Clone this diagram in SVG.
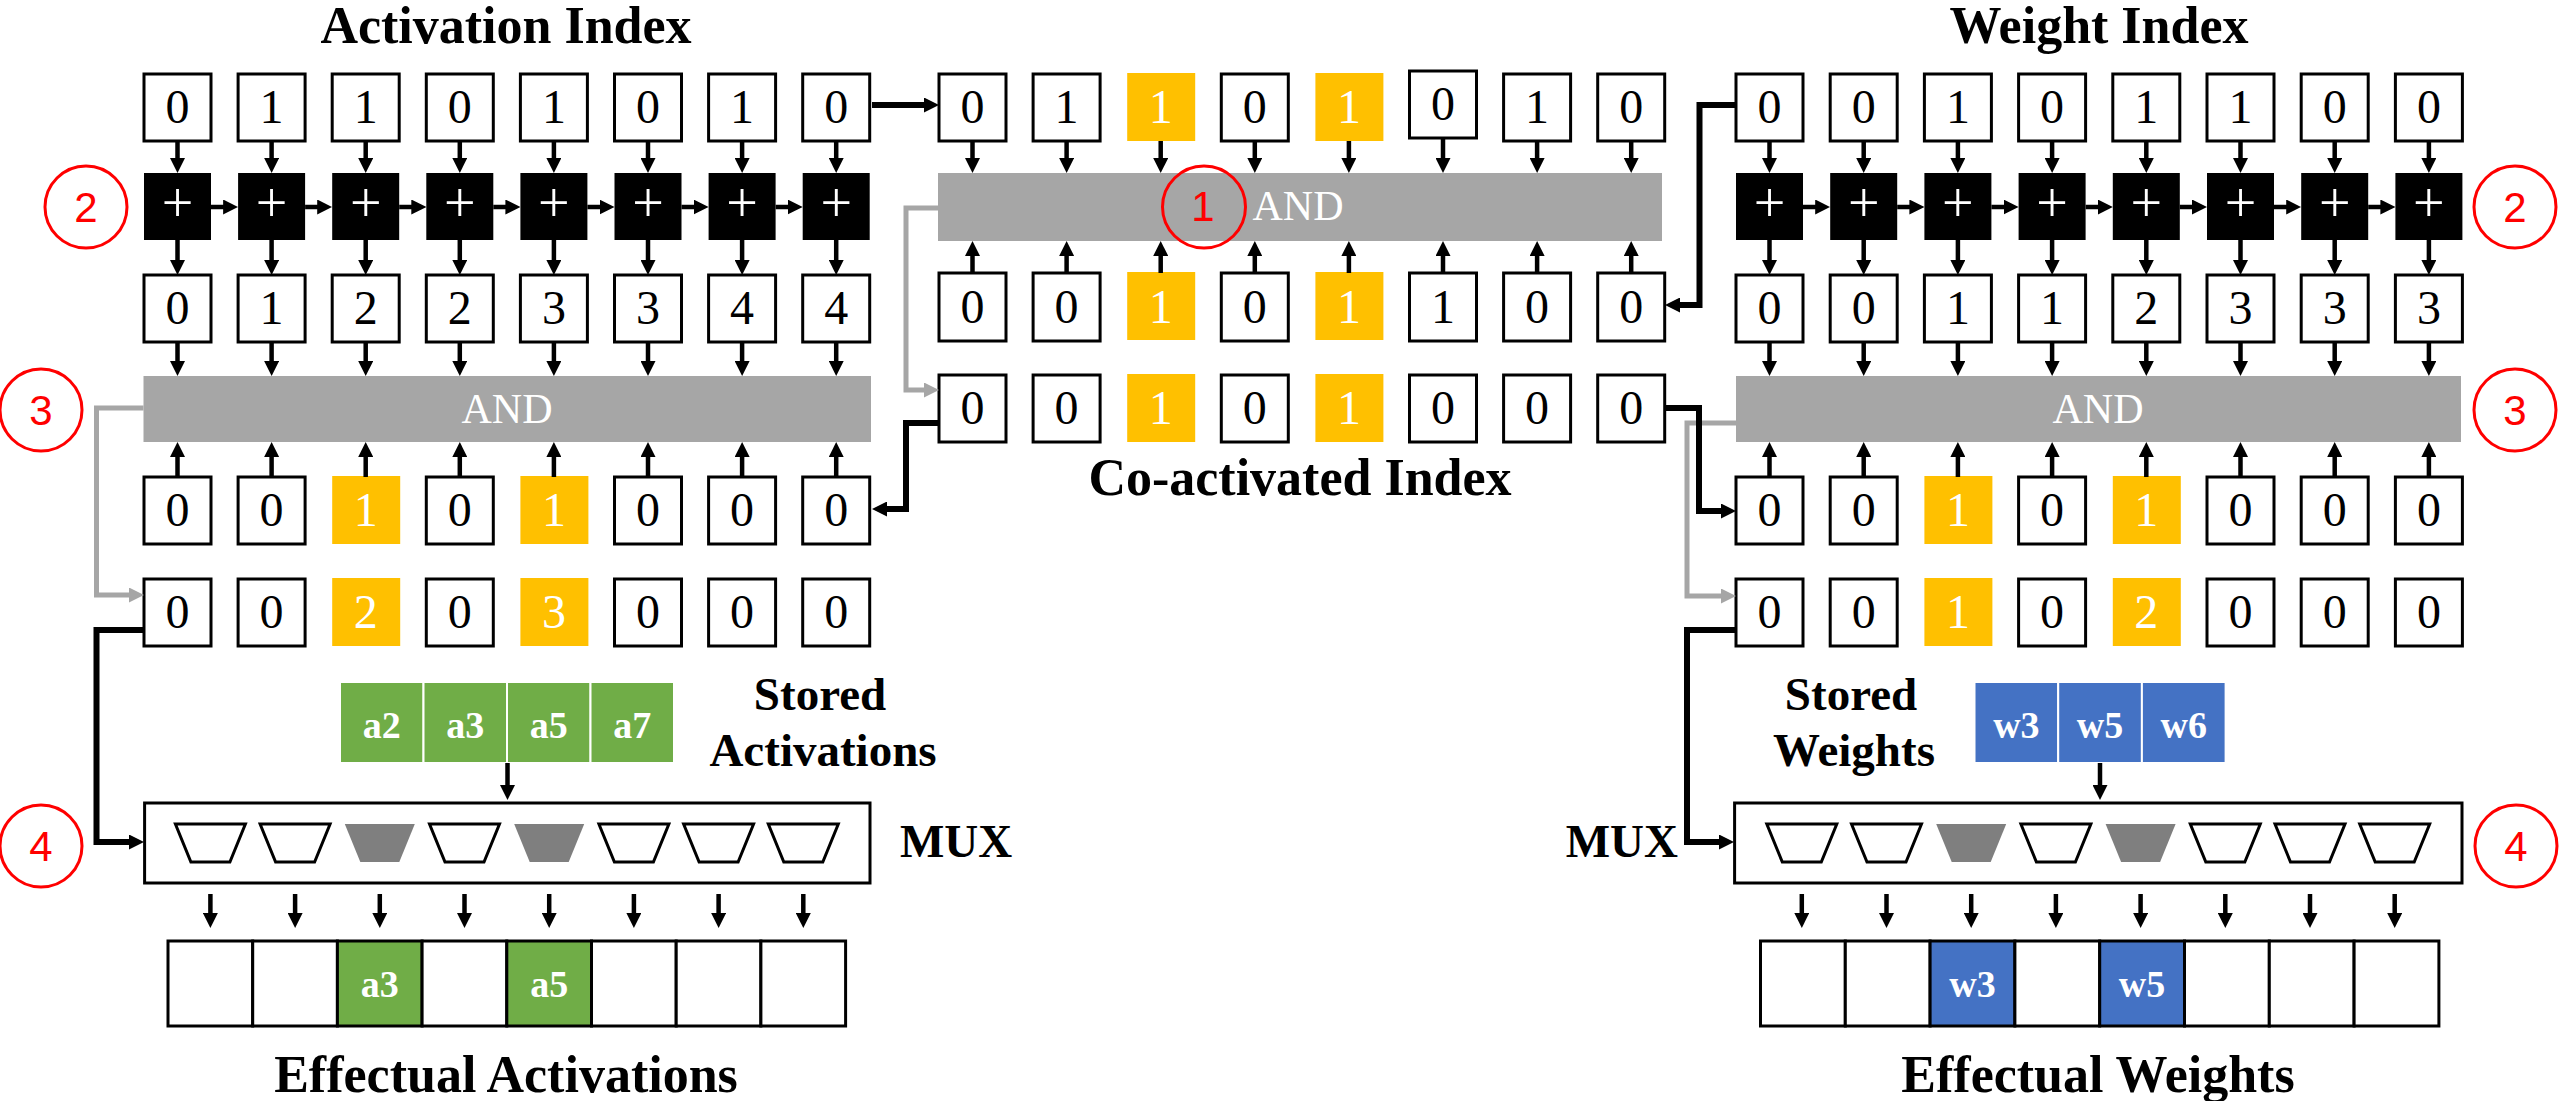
<svg xmlns="http://www.w3.org/2000/svg" width="2560" height="1101" viewBox="0 0 2560 1101">
<style>
.bg{fill:#fff}
.b{fill:#fff;stroke:#000;stroke-width:3}
.y{fill:#FFC000}
.ad{fill:#000}
.bar{fill:#A6A6A6}
.g{fill:#70AD47;stroke:#fff;stroke-width:2}
.bl{fill:#4472C4;stroke:#fff;stroke-width:2}
.eg{fill:#70AD47;stroke:#000;stroke-width:3}
.eb{fill:#4472C4;stroke:#000;stroke-width:3}
.tw{fill:#fff;stroke:#000;stroke-width:3}
.tf{fill:#7F7F7F}
.n{font-family:"Liberation Serif","Times New Roman",serif;font-size:48px;text-anchor:middle;fill:#000}
.nw{font-family:"Liberation Serif","Times New Roman",serif;font-size:48px;text-anchor:middle;fill:#fff}
.pl{font-family:"Liberation Serif","Times New Roman",serif;font-size:56px;text-anchor:middle;fill:#fff}
.and{font-family:"Liberation Serif","Times New Roman",serif;font-size:42px;text-anchor:middle;fill:#fff}
.sv{font-family:"Liberation Serif","Times New Roman",serif;font-size:38px;font-weight:bold;text-anchor:middle;fill:#fff}
.t{font-family:"Liberation Serif","Times New Roman",serif;font-size:52px;font-weight:bold;text-anchor:middle;fill:#000}
.t2{font-family:"Liberation Serif","Times New Roman",serif;font-size:47px;font-weight:bold;text-anchor:middle;fill:#000}
.c{fill:none;stroke:#FF0000;stroke-width:3}
.cn{font-family:"Liberation Sans",Arial,sans-serif;font-size:42px;text-anchor:middle;fill:#FF0000}
.a{stroke:#000;stroke-width:4.5;fill:none;marker-end:url(#ah)}
.k{stroke:#000;stroke-width:6;fill:none;marker-end:url(#ah)}
.gr{stroke:#A6A6A6;stroke-width:5;fill:none;marker-end:url(#ahg)}
</style>
<defs>
<marker id="ah" viewBox="0 0 10 10" markerUnits="userSpaceOnUse" markerWidth="15" markerHeight="15" refX="4" refY="5" orient="auto"><path d="M0,0L10,5L0,10z" fill="#000"/></marker>
<marker id="ahg" viewBox="0 0 10 10" markerUnits="userSpaceOnUse" markerWidth="15" markerHeight="15" refX="4" refY="5" orient="auto"><path d="M0,0L10,5L0,10z" fill="#A6A6A6"/></marker>
</defs>
<rect class="bg" x="0" y="0" width="2560" height="1101"/>

<!-- Titles -->
<g id="titles">
<text class="t" x="506" y="43">Activation Index</text>
<text class="t" x="2099" y="43">Weight Index</text>
<text class="t" x="1300" y="495">Co-activated Index</text>
<text class="t" x="506" y="1092">Effectual Activations</text>
<text class="t" x="2098" y="1092">Effectual Weights</text>
<text class="t2" x="820" y="710">Stored</text>
<text class="t2" x="823" y="766">Activations</text>
<text class="t2" x="1851" y="710">Stored</text>
<text class="t2" x="1854" y="766">Weights</text>
<text class="t2" x="900" y="857" style="text-anchor:start">MUX</text>
<text class="t2" x="1678" y="857" style="text-anchor:end">MUX</text>
</g>

<!-- AND bars -->
<g id="and-center"><rect class="bar" x="938" y="173" width="724" height="68"/><text class="and" x="1298" y="220">AND</text></g>
<g id="and-left"><rect class="bar" x="143.5" y="376" width="727.5" height="66"/><text class="and" x="507" y="423">AND</text></g>
<g id="and-right"><rect class="bar" x="1736" y="376" width="725" height="66"/><text class="and" x="2098" y="423">AND</text></g>

<!-- Left: activation index -->
<g id="act-idx">
<rect class="b" x="144" y="74" width="67" height="67"/><text class="n" x="177.5" y="123">0</text>
<rect class="b" x="238.1" y="74" width="67" height="67"/><text class="n" x="271.6" y="123">1</text>
<rect class="b" x="332.2" y="74" width="67" height="67"/><text class="n" x="365.7" y="123">1</text>
<rect class="b" x="426.3" y="74" width="67" height="67"/><text class="n" x="459.8" y="123">0</text>
<rect class="b" x="520.4" y="74" width="67" height="67"/><text class="n" x="553.9" y="123">1</text>
<rect class="b" x="614.5" y="74" width="67" height="67"/><text class="n" x="648" y="123">0</text>
<rect class="b" x="708.6" y="74" width="67" height="67"/><text class="n" x="742.1" y="123">1</text>
<rect class="b" x="802.7" y="74" width="67" height="67"/><text class="n" x="836.2" y="123">0</text>
</g>
<g id="act-adders">
<rect class="ad" x="144" y="173" width="67" height="67"/><text class="pl" x="177.5" y="222">+</text>
<rect class="ad" x="238.1" y="173" width="67" height="67"/><text class="pl" x="271.6" y="222">+</text>
<rect class="ad" x="332.2" y="173" width="67" height="67"/><text class="pl" x="365.7" y="222">+</text>
<rect class="ad" x="426.3" y="173" width="67" height="67"/><text class="pl" x="459.8" y="222">+</text>
<rect class="ad" x="520.4" y="173" width="67" height="67"/><text class="pl" x="553.9" y="222">+</text>
<rect class="ad" x="614.5" y="173" width="67" height="67"/><text class="pl" x="648" y="222">+</text>
<rect class="ad" x="708.6" y="173" width="67" height="67"/><text class="pl" x="742.1" y="222">+</text>
<rect class="ad" x="802.7" y="173" width="67" height="67"/><text class="pl" x="836.2" y="222">+</text>
</g>
<g id="act-prefix">
<rect class="b" x="144" y="275" width="67" height="67"/><text class="n" x="177.5" y="324">0</text>
<rect class="b" x="238.1" y="275" width="67" height="67"/><text class="n" x="271.6" y="324">1</text>
<rect class="b" x="332.2" y="275" width="67" height="67"/><text class="n" x="365.7" y="324">2</text>
<rect class="b" x="426.3" y="275" width="67" height="67"/><text class="n" x="459.8" y="324">2</text>
<rect class="b" x="520.4" y="275" width="67" height="67"/><text class="n" x="553.9" y="324">3</text>
<rect class="b" x="614.5" y="275" width="67" height="67"/><text class="n" x="648" y="324">3</text>
<rect class="b" x="708.6" y="275" width="67" height="67"/><text class="n" x="742.1" y="324">4</text>
<rect class="b" x="802.7" y="275" width="67" height="67"/><text class="n" x="836.2" y="324">4</text>
</g>
<g id="act-coidx">
<rect class="b" x="144" y="477" width="67" height="67"/><text class="n" x="177.5" y="526">0</text>
<rect class="b" x="238.1" y="477" width="67" height="67"/><text class="n" x="271.6" y="526">0</text>
<rect class="y" x="332.2" y="476" width="68" height="68"/><text class="nw" x="365.7" y="526">1</text>
<rect class="b" x="426.3" y="477" width="67" height="67"/><text class="n" x="459.8" y="526">0</text>
<rect class="y" x="520.4" y="476" width="68" height="68"/><text class="nw" x="553.9" y="526">1</text>
<rect class="b" x="614.5" y="477" width="67" height="67"/><text class="n" x="648" y="526">0</text>
<rect class="b" x="708.6" y="477" width="67" height="67"/><text class="n" x="742.1" y="526">0</text>
<rect class="b" x="802.7" y="477" width="67" height="67"/><text class="n" x="836.2" y="526">0</text>
</g>
<g id="act-select">
<rect class="b" x="144" y="579" width="67" height="67"/><text class="n" x="177.5" y="628">0</text>
<rect class="b" x="238.1" y="579" width="67" height="67"/><text class="n" x="271.6" y="628">0</text>
<rect class="y" x="332.2" y="578" width="68" height="68"/><text class="nw" x="365.7" y="628">2</text>
<rect class="b" x="426.3" y="579" width="67" height="67"/><text class="n" x="459.8" y="628">0</text>
<rect class="y" x="520.4" y="578" width="68" height="68"/><text class="nw" x="553.9" y="628">3</text>
<rect class="b" x="614.5" y="579" width="67" height="67"/><text class="n" x="648" y="628">0</text>
<rect class="b" x="708.6" y="579" width="67" height="67"/><text class="n" x="742.1" y="628">0</text>
<rect class="b" x="802.7" y="579" width="67" height="67"/><text class="n" x="836.2" y="628">0</text>
</g>
<g id="stored-act">
<rect class="g" x="340" y="682" width="83.5" height="81"/><text class="sv" x="381.8" y="738">a2</text>
<rect class="g" x="423.5" y="682" width="83.5" height="81"/><text class="sv" x="465.3" y="738">a3</text>
<rect class="g" x="507" y="682" width="83.5" height="81"/><text class="sv" x="548.8" y="738">a5</text>
<rect class="g" x="590.5" y="682" width="83.5" height="81"/><text class="sv" x="632.3" y="738">a7</text>
</g>
<g id="mux-left">
<rect class="b" x="144.6" y="803" width="725.4" height="80"/>
<polygon class="tw" points="175.4,824 245.4,824 229.9,862 190.9,862"/>
<polygon class="tw" points="260.1,824 330.1,824 314.6,862 275.6,862"/>
<polygon class="tf" points="344.8,824 414.8,824 399.3,862 360.3,862"/>
<polygon class="tw" points="429.5,824 499.5,824 484,862 445,862"/>
<polygon class="tf" points="514.2,824 584.2,824 568.7,862 529.7,862"/>
<polygon class="tw" points="598.9,824 668.9,824 653.4,862 614.4,862"/>
<polygon class="tw" points="683.6,824 753.6,824 738.1,862 699.1,862"/>
<polygon class="tw" points="768.3,824 838.3,824 822.8,862 783.8,862"/>
</g>
<g id="eff-act">
<rect class="b" x="168" y="941" width="84.7" height="85"/>
<rect class="b" x="252.7" y="941" width="84.7" height="85"/>
<rect class="eg" x="337.4" y="941" width="84.7" height="85"/><text class="sv" x="379.8" y="997">a3</text>
<rect class="b" x="422.1" y="941" width="84.7" height="85"/>
<rect class="eg" x="506.8" y="941" width="84.7" height="85"/><text class="sv" x="549.2" y="997">a5</text>
<rect class="b" x="591.5" y="941" width="84.7" height="85"/>
<rect class="b" x="676.2" y="941" width="84.7" height="85"/>
<rect class="b" x="760.9" y="941" width="84.7" height="85"/>
</g>

<!-- Center: co-activation -->
<g id="co-act">
<rect class="b" x="939" y="74" width="67" height="67"/><text class="n" x="972.5" y="123">0</text>
<rect class="b" x="1033.1" y="74" width="67" height="67"/><text class="n" x="1066.6" y="123">1</text>
<rect class="y" x="1127.2" y="73" width="68" height="68"/><text class="nw" x="1160.7" y="123">1</text>
<rect class="b" x="1221.3" y="74" width="67" height="67"/><text class="n" x="1254.8" y="123">0</text>
<rect class="y" x="1315.4" y="73" width="68" height="68"/><text class="nw" x="1348.9" y="123">1</text>
<rect class="b" x="1409.5" y="71" width="67" height="67"/><text class="n" x="1443" y="120">0</text>
<rect class="b" x="1503.6" y="74" width="67" height="67"/><text class="n" x="1537.1" y="123">1</text>
<rect class="b" x="1597.7" y="74" width="67" height="67"/><text class="n" x="1631.2" y="123">0</text>
</g>
<g id="co-wgt">
<rect class="b" x="939" y="273" width="67" height="68"/><text class="n" x="972.5" y="323">0</text>
<rect class="b" x="1033.1" y="273" width="67" height="68"/><text class="n" x="1066.6" y="323">0</text>
<rect class="y" x="1127.2" y="272" width="68" height="68"/><text class="nw" x="1160.7" y="323">1</text>
<rect class="b" x="1221.3" y="273" width="67" height="68"/><text class="n" x="1254.8" y="323">0</text>
<rect class="y" x="1315.4" y="272" width="68" height="68"/><text class="nw" x="1348.9" y="323">1</text>
<rect class="b" x="1409.5" y="273" width="67" height="68"/><text class="n" x="1443" y="323">1</text>
<rect class="b" x="1503.6" y="273" width="67" height="68"/><text class="n" x="1537.1" y="323">0</text>
<rect class="b" x="1597.7" y="273" width="67" height="68"/><text class="n" x="1631.2" y="323">0</text>
</g>
<g id="co-idx">
<rect class="b" x="939" y="375" width="67" height="67"/><text class="n" x="972.5" y="424">0</text>
<rect class="b" x="1033.1" y="375" width="67" height="67"/><text class="n" x="1066.6" y="424">0</text>
<rect class="y" x="1127.2" y="374" width="68" height="68"/><text class="nw" x="1160.7" y="424">1</text>
<rect class="b" x="1221.3" y="375" width="67" height="67"/><text class="n" x="1254.8" y="424">0</text>
<rect class="y" x="1315.4" y="374" width="68" height="68"/><text class="nw" x="1348.9" y="424">1</text>
<rect class="b" x="1409.5" y="375" width="67" height="67"/><text class="n" x="1443" y="424">0</text>
<rect class="b" x="1503.6" y="375" width="67" height="67"/><text class="n" x="1537.1" y="424">0</text>
<rect class="b" x="1597.7" y="375" width="67" height="67"/><text class="n" x="1631.2" y="424">0</text>
</g>

<!-- Right: weight index -->
<g id="wgt-idx">
<rect class="b" x="1736" y="74" width="67" height="67"/><text class="n" x="1769.5" y="123">0</text>
<rect class="b" x="1830.2" y="74" width="67" height="67"/><text class="n" x="1863.7" y="123">0</text>
<rect class="b" x="1924.4" y="74" width="67" height="67"/><text class="n" x="1957.9" y="123">1</text>
<rect class="b" x="2018.6" y="74" width="67" height="67"/><text class="n" x="2052.1" y="123">0</text>
<rect class="b" x="2112.8" y="74" width="67" height="67"/><text class="n" x="2146.3" y="123">1</text>
<rect class="b" x="2207" y="74" width="67" height="67"/><text class="n" x="2240.5" y="123">1</text>
<rect class="b" x="2301.2" y="74" width="67" height="67"/><text class="n" x="2334.7" y="123">0</text>
<rect class="b" x="2395.4" y="74" width="67" height="67"/><text class="n" x="2428.9" y="123">0</text>
</g>
<g id="wgt-adders">
<rect class="ad" x="1736" y="173" width="67" height="67"/><text class="pl" x="1769.5" y="222">+</text>
<rect class="ad" x="1830.2" y="173" width="67" height="67"/><text class="pl" x="1863.7" y="222">+</text>
<rect class="ad" x="1924.4" y="173" width="67" height="67"/><text class="pl" x="1957.9" y="222">+</text>
<rect class="ad" x="2018.6" y="173" width="67" height="67"/><text class="pl" x="2052.1" y="222">+</text>
<rect class="ad" x="2112.8" y="173" width="67" height="67"/><text class="pl" x="2146.3" y="222">+</text>
<rect class="ad" x="2207" y="173" width="67" height="67"/><text class="pl" x="2240.5" y="222">+</text>
<rect class="ad" x="2301.2" y="173" width="67" height="67"/><text class="pl" x="2334.7" y="222">+</text>
<rect class="ad" x="2395.4" y="173" width="67" height="67"/><text class="pl" x="2428.9" y="222">+</text>
</g>
<g id="wgt-prefix">
<rect class="b" x="1736" y="275" width="67" height="67"/><text class="n" x="1769.5" y="324">0</text>
<rect class="b" x="1830.2" y="275" width="67" height="67"/><text class="n" x="1863.7" y="324">0</text>
<rect class="b" x="1924.4" y="275" width="67" height="67"/><text class="n" x="1957.9" y="324">1</text>
<rect class="b" x="2018.6" y="275" width="67" height="67"/><text class="n" x="2052.1" y="324">1</text>
<rect class="b" x="2112.8" y="275" width="67" height="67"/><text class="n" x="2146.3" y="324">2</text>
<rect class="b" x="2207" y="275" width="67" height="67"/><text class="n" x="2240.5" y="324">3</text>
<rect class="b" x="2301.2" y="275" width="67" height="67"/><text class="n" x="2334.7" y="324">3</text>
<rect class="b" x="2395.4" y="275" width="67" height="67"/><text class="n" x="2428.9" y="324">3</text>
</g>
<g id="wgt-coidx">
<rect class="b" x="1736" y="477" width="67" height="67"/><text class="n" x="1769.5" y="526">0</text>
<rect class="b" x="1830.2" y="477" width="67" height="67"/><text class="n" x="1863.7" y="526">0</text>
<rect class="y" x="1924.4" y="476" width="68" height="68"/><text class="nw" x="1957.9" y="526">1</text>
<rect class="b" x="2018.6" y="477" width="67" height="67"/><text class="n" x="2052.1" y="526">0</text>
<rect class="y" x="2112.8" y="476" width="68" height="68"/><text class="nw" x="2146.3" y="526">1</text>
<rect class="b" x="2207" y="477" width="67" height="67"/><text class="n" x="2240.5" y="526">0</text>
<rect class="b" x="2301.2" y="477" width="67" height="67"/><text class="n" x="2334.7" y="526">0</text>
<rect class="b" x="2395.4" y="477" width="67" height="67"/><text class="n" x="2428.9" y="526">0</text>
</g>
<g id="wgt-select">
<rect class="b" x="1736" y="579" width="67" height="67"/><text class="n" x="1769.5" y="628">0</text>
<rect class="b" x="1830.2" y="579" width="67" height="67"/><text class="n" x="1863.7" y="628">0</text>
<rect class="y" x="1924.4" y="578" width="68" height="68"/><text class="nw" x="1957.9" y="628">1</text>
<rect class="b" x="2018.6" y="579" width="67" height="67"/><text class="n" x="2052.1" y="628">0</text>
<rect class="y" x="2112.8" y="578" width="68" height="68"/><text class="nw" x="2146.3" y="628">2</text>
<rect class="b" x="2207" y="579" width="67" height="67"/><text class="n" x="2240.5" y="628">0</text>
<rect class="b" x="2301.2" y="579" width="67" height="67"/><text class="n" x="2334.7" y="628">0</text>
<rect class="b" x="2395.4" y="579" width="67" height="67"/><text class="n" x="2428.9" y="628">0</text>
</g>
<g id="stored-wgt">
<rect class="bl" x="1974.5" y="682" width="83.7" height="81"/><text class="sv" x="2016.4" y="738">w3</text>
<rect class="bl" x="2058.2" y="682" width="83.7" height="81"/><text class="sv" x="2100" y="738">w5</text>
<rect class="bl" x="2141.9" y="682" width="83.7" height="81"/><text class="sv" x="2183.8" y="738">w6</text>
</g>
<g id="mux-right">
<rect class="b" x="1734.6" y="803" width="727.4" height="80"/>
<polygon class="tw" points="1766.8,824 1836.8,824 1821.3,862 1782.3,862"/>
<polygon class="tw" points="1851.5,824 1921.5,824 1906,862 1867,862"/>
<polygon class="tf" points="1936.2,824 2006.2,824 1990.7,862 1951.7,862"/>
<polygon class="tw" points="2020.9,824 2090.9,824 2075.4,862 2036.4,862"/>
<polygon class="tf" points="2105.6,824 2175.6,824 2160.1,862 2121.1,862"/>
<polygon class="tw" points="2190.3,824 2260.3,824 2244.8,862 2205.8,862"/>
<polygon class="tw" points="2275,824 2345,824 2329.5,862 2290.5,862"/>
<polygon class="tw" points="2359.7,824 2429.7,824 2414.2,862 2375.2,862"/>
</g>
<g id="eff-wgt">
<rect class="b" x="1760.5" y="941" width="84.8" height="85"/>
<rect class="b" x="1845.3" y="941" width="84.8" height="85"/>
<rect class="eb" x="1930.1" y="941" width="84.8" height="85"/><text class="sv" x="1972.5" y="997">w3</text>
<rect class="b" x="2014.9" y="941" width="84.8" height="85"/>
<rect class="eb" x="2099.7" y="941" width="84.8" height="85"/><text class="sv" x="2142.1" y="997">w5</text>
<rect class="b" x="2184.5" y="941" width="84.8" height="85"/>
<rect class="b" x="2269.3" y="941" width="84.8" height="85"/>
<rect class="b" x="2354.1" y="941" width="84.8" height="85"/>
</g>

<!-- Step markers -->
<g id="step1"><ellipse class="c" cx="1204" cy="207" rx="41.5" ry="41"/><text class="cn" x="1203" y="221">1</text></g>
<g id="step2-left"><ellipse class="c" cx="86" cy="207" rx="41" ry="41"/><text class="cn" x="86" y="222">2</text></g>
<g id="step2-right"><ellipse class="c" cx="2515" cy="207" rx="41" ry="41"/><text class="cn" x="2515" y="222">2</text></g>
<g id="step3-left"><ellipse class="c" cx="41" cy="410" rx="41" ry="41"/><text class="cn" x="41" y="425">3</text></g>
<g id="step3-right"><ellipse class="c" cx="2515" cy="410" rx="41" ry="41"/><text class="cn" x="2515" y="425">3</text></g>
<g id="step4-left"><ellipse class="c" cx="41" cy="846" rx="41" ry="41"/><text class="cn" x="41" y="861">4</text></g>
<g id="step4-right"><ellipse class="c" cx="2516" cy="846" rx="41" ry="41"/><text class="cn" x="2516" y="861">4</text></g>

<!-- Connectors -->
<g id="connectors">
<line class="a" x1="177.5" y1="141" x2="177.5" y2="164"/><line class="a" x1="271.6" y1="141" x2="271.6" y2="164"/><line class="a" x1="365.7" y1="141" x2="365.7" y2="164"/><line class="a" x1="459.8" y1="141" x2="459.8" y2="164"/><line class="a" x1="553.9" y1="141" x2="553.9" y2="164"/><line class="a" x1="648" y1="141" x2="648" y2="164"/><line class="a" x1="742.1" y1="141" x2="742.1" y2="164"/><line class="a" x1="836.2" y1="141" x2="836.2" y2="164"/>
<line class="a" x1="177.5" y1="240" x2="177.5" y2="266"/><line class="a" x1="271.6" y1="240" x2="271.6" y2="266"/><line class="a" x1="365.7" y1="240" x2="365.7" y2="266"/><line class="a" x1="459.8" y1="240" x2="459.8" y2="266"/><line class="a" x1="553.9" y1="240" x2="553.9" y2="266"/><line class="a" x1="648" y1="240" x2="648" y2="266"/><line class="a" x1="742.1" y1="240" x2="742.1" y2="266"/><line class="a" x1="836.2" y1="240" x2="836.2" y2="266"/>
<line class="a" x1="177.5" y1="342" x2="177.5" y2="367"/><line class="a" x1="271.6" y1="342" x2="271.6" y2="367"/><line class="a" x1="365.7" y1="342" x2="365.7" y2="367"/><line class="a" x1="459.8" y1="342" x2="459.8" y2="367"/><line class="a" x1="553.9" y1="342" x2="553.9" y2="367"/><line class="a" x1="648" y1="342" x2="648" y2="367"/><line class="a" x1="742.1" y1="342" x2="742.1" y2="367"/><line class="a" x1="836.2" y1="342" x2="836.2" y2="367"/>
<line class="a" x1="177.5" y1="477" x2="177.5" y2="451"/><line class="a" x1="271.6" y1="477" x2="271.6" y2="451"/><line class="a" x1="365.7" y1="477" x2="365.7" y2="451"/><line class="a" x1="459.8" y1="477" x2="459.8" y2="451"/><line class="a" x1="553.9" y1="477" x2="553.9" y2="451"/><line class="a" x1="648" y1="477" x2="648" y2="451"/><line class="a" x1="742.1" y1="477" x2="742.1" y2="451"/><line class="a" x1="836.2" y1="477" x2="836.2" y2="451"/>
<line class="a" x1="211" y1="207" x2="229.1" y2="207"/><line class="a" x1="305.1" y1="207" x2="323.2" y2="207"/><line class="a" x1="399.2" y1="207" x2="417.3" y2="207"/><line class="a" x1="493.3" y1="207" x2="511.4" y2="207"/><line class="a" x1="587.4" y1="207" x2="605.5" y2="207"/><line class="a" x1="681.5" y1="207" x2="699.6" y2="207"/><line class="a" x1="775.6" y1="207" x2="793.7" y2="207"/>
<line class="a" x1="972.5" y1="141" x2="972.5" y2="164"/><line class="a" x1="1066.6" y1="141" x2="1066.6" y2="164"/><line class="a" x1="1160.7" y1="141" x2="1160.7" y2="164"/><line class="a" x1="1254.8" y1="141" x2="1254.8" y2="164"/><line class="a" x1="1348.9" y1="141" x2="1348.9" y2="164"/><line class="a" x1="1443" y1="138" x2="1443" y2="164"/><line class="a" x1="1537.1" y1="141" x2="1537.1" y2="164"/><line class="a" x1="1631.2" y1="141" x2="1631.2" y2="164"/>
<line class="a" x1="972.5" y1="273" x2="972.5" y2="250"/><line class="a" x1="1066.6" y1="273" x2="1066.6" y2="250"/><line class="a" x1="1160.7" y1="273" x2="1160.7" y2="250"/><line class="a" x1="1254.8" y1="273" x2="1254.8" y2="250"/><line class="a" x1="1348.9" y1="273" x2="1348.9" y2="250"/><line class="a" x1="1443" y1="273" x2="1443" y2="250"/><line class="a" x1="1537.1" y1="273" x2="1537.1" y2="250"/><line class="a" x1="1631.2" y1="273" x2="1631.2" y2="250"/>
<line class="a" x1="1769.5" y1="141" x2="1769.5" y2="164"/><line class="a" x1="1863.7" y1="141" x2="1863.7" y2="164"/><line class="a" x1="1957.9" y1="141" x2="1957.9" y2="164"/><line class="a" x1="2052.1" y1="141" x2="2052.1" y2="164"/><line class="a" x1="2146.3" y1="141" x2="2146.3" y2="164"/><line class="a" x1="2240.5" y1="141" x2="2240.5" y2="164"/><line class="a" x1="2334.7" y1="141" x2="2334.7" y2="164"/><line class="a" x1="2428.9" y1="141" x2="2428.9" y2="164"/>
<line class="a" x1="1769.5" y1="240" x2="1769.5" y2="266"/><line class="a" x1="1863.7" y1="240" x2="1863.7" y2="266"/><line class="a" x1="1957.9" y1="240" x2="1957.9" y2="266"/><line class="a" x1="2052.1" y1="240" x2="2052.1" y2="266"/><line class="a" x1="2146.3" y1="240" x2="2146.3" y2="266"/><line class="a" x1="2240.5" y1="240" x2="2240.5" y2="266"/><line class="a" x1="2334.7" y1="240" x2="2334.7" y2="266"/><line class="a" x1="2428.9" y1="240" x2="2428.9" y2="266"/>
<line class="a" x1="1769.5" y1="342" x2="1769.5" y2="367"/><line class="a" x1="1863.7" y1="342" x2="1863.7" y2="367"/><line class="a" x1="1957.9" y1="342" x2="1957.9" y2="367"/><line class="a" x1="2052.1" y1="342" x2="2052.1" y2="367"/><line class="a" x1="2146.3" y1="342" x2="2146.3" y2="367"/><line class="a" x1="2240.5" y1="342" x2="2240.5" y2="367"/><line class="a" x1="2334.7" y1="342" x2="2334.7" y2="367"/><line class="a" x1="2428.9" y1="342" x2="2428.9" y2="367"/>
<line class="a" x1="1769.5" y1="477" x2="1769.5" y2="451"/><line class="a" x1="1863.7" y1="477" x2="1863.7" y2="451"/><line class="a" x1="1957.9" y1="477" x2="1957.9" y2="451"/><line class="a" x1="2052.1" y1="477" x2="2052.1" y2="451"/><line class="a" x1="2146.3" y1="477" x2="2146.3" y2="451"/><line class="a" x1="2240.5" y1="477" x2="2240.5" y2="451"/><line class="a" x1="2334.7" y1="477" x2="2334.7" y2="451"/><line class="a" x1="2428.9" y1="477" x2="2428.9" y2="451"/>
<line class="a" x1="1803" y1="207" x2="1821.2" y2="207"/><line class="a" x1="1897.2" y1="207" x2="1915.4" y2="207"/><line class="a" x1="1991.4" y1="207" x2="2009.6" y2="207"/><line class="a" x1="2085.6" y1="207" x2="2103.8" y2="207"/><line class="a" x1="2179.8" y1="207" x2="2198" y2="207"/><line class="a" x1="2274" y1="207" x2="2292.2" y2="207"/><line class="a" x1="2368.2" y1="207" x2="2386.4" y2="207"/>
<line class="a" x1="507.5" y1="763" x2="507.5" y2="791"/>
<line class="a" x1="2100" y1="763" x2="2100" y2="791"/>
<line class="a" x1="210.4" y1="894" x2="210.4" y2="919"/><line class="a" x1="295.1" y1="894" x2="295.1" y2="919"/><line class="a" x1="379.8" y1="894" x2="379.8" y2="919"/><line class="a" x1="464.5" y1="894" x2="464.5" y2="919"/><line class="a" x1="549.2" y1="894" x2="549.2" y2="919"/><line class="a" x1="633.9" y1="894" x2="633.9" y2="919"/><line class="a" x1="718.6" y1="894" x2="718.6" y2="919"/><line class="a" x1="803.3" y1="894" x2="803.3" y2="919"/>
<line class="a" x1="1801.8" y1="894" x2="1801.8" y2="919"/><line class="a" x1="1886.5" y1="894" x2="1886.5" y2="919"/><line class="a" x1="1971.2" y1="894" x2="1971.2" y2="919"/><line class="a" x1="2055.9" y1="894" x2="2055.9" y2="919"/><line class="a" x1="2140.6" y1="894" x2="2140.6" y2="919"/><line class="a" x1="2225.3" y1="894" x2="2225.3" y2="919"/><line class="a" x1="2310" y1="894" x2="2310" y2="919"/><line class="a" x1="2394.7" y1="894" x2="2394.7" y2="919"/>
<path class="gr" d="M143.5,408H96.5V595H135"/>
<path class="gr" d="M938,208H906V390H930"/>
<path class="gr" d="M1736,423H1687V596H1727"/>
<path class="k" d="M872,105H930"/>
<path class="k" d="M1736,105H1699.5V305H1674"/>
<path class="k" d="M939,423H906V509H881"/>
<path class="k" d="M1664,408H1699V511H1727"/>
<path class="k" d="M143.5,630H96.5V842H135"/>
<path class="k" d="M1736,630H1687V842H1725"/>
</g>
</svg>
